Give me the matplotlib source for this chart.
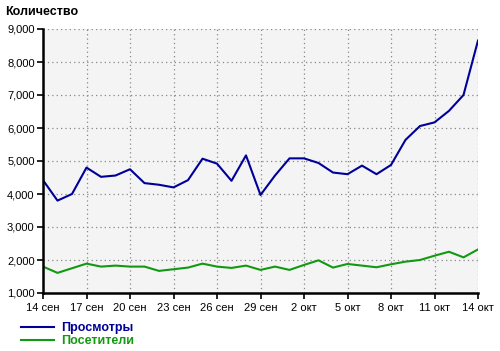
import matplotlib
matplotlib.use("Agg")
import matplotlib.pyplot as plt
from matplotlib.ticker import FuncFormatter, MultipleLocator

plt.rcParams["font.family"] = ["Liberation Sans", "DejaVu Sans"]

days = ["14 сен", "15 сен", "16 сен", "17 сен", "18 сен", "19 сен", "20 сен", "21 сен",
        "22 сен", "23 сен", "24 сен", "25 сен", "26 сен", "27 сен", "28 сен", "29 сен",
        "30 сен", "1 окт", "2 окт", "3 окт", "4 окт", "5 окт", "6 окт", "7 окт",
        "8 окт", "9 окт", "10 окт", "11 окт", "12 окт", "13 окт", "14 окт"]
views = [4420, 3800, 4000, 4800, 4520, 4560, 4750, 4330, 4280, 4200, 4420, 5070,
         4920, 4400, 5170, 3970, 4560, 5080, 5080, 4940, 4650, 4600, 4860, 4600,
         4880, 5640, 6060, 6170, 6520, 7000, 8650]
visitors = [1800, 1610, 1750, 1890, 1800, 1830, 1800, 1800, 1670, 1720, 1770, 1890,
            1800, 1760, 1830, 1700, 1800, 1700, 1850, 1990, 1770, 1880, 1830, 1780,
            1870, 1950, 2000, 2130, 2250, 2080, 2320]
series_names = ["Просмотры", "Посетители"]
ylabel = "Количество"

blue = "#000099"
green = "#119911"

fig = plt.figure(figsize=(5.0, 3.51), dpi=100)
ax = fig.add_axes([43/500, 1-293/351, (478-43)/500, (293-29)/351])
ax.set_facecolor("#f4f4f4")
x = list(range(len(days)))
l1, = ax.plot(x, views, color=blue, lw=1.5, label=series_names[0])
l2, = ax.plot(x, visitors, color=green, lw=1.5, label=series_names[1])

ax.set_xlim(0, len(days)-1)
ax.set_ylim(1000, 9000)
ax.set_xticks(x[::3])
ax.set_xticklabels(days[::3])
ax.yaxis.set_major_locator(MultipleLocator(1000))
ax.yaxis.set_major_formatter(FuncFormatter(lambda v, p: f"{int(v):,}"))
ax.grid(True, color="#888888", ls=(0, (1, 2.5)), lw=0.9)
for s in ["top", "right"]:
    ax.spines[s].set_visible(False)
for s in ["left", "bottom"]:
    ax.spines[s].set_linewidth(1.8)
    ax.spines[s].set_color("black")
ax.tick_params(axis="both", direction="out", length=4, width=1.2, labelsize=8, colors="black", pad=2)
ax.tick_params(axis="x", pad=3)

fig.text(5/500, 1-12/351, ylabel, fontsize=9, fontweight="bold", va="center", ha="left")

leg = fig.legend(handles=[l1, l2], loc="upper left", bbox_to_anchor=(20/500, 1-321/351),
                 frameon=False, handlelength=2.6, handletextpad=0.55, labelspacing=0.05,
                 borderaxespad=0, borderpad=0.1,
                 prop={"weight": "bold", "size": 9})
for t, c in zip(leg.get_texts(), [blue, green]):
    t.set_color(c)

fig.savefig("out.png", dpi=100, facecolor="white")
